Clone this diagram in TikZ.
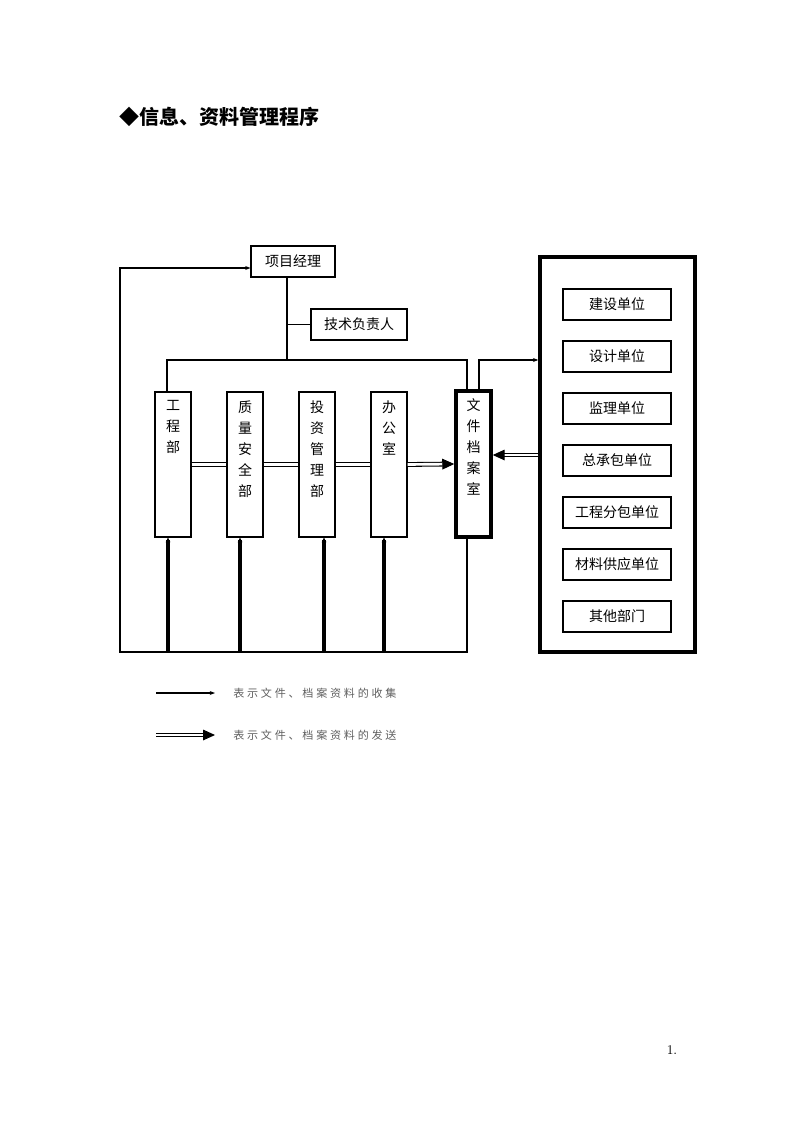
\documentclass[tikz,border=0pt]{standalone}
\usepackage{fontspec}
\usepackage{tikz}
\usetikzlibrary{arrows.meta,calc}
\newfontfamily\cjk{Noto Sans CJK SC}
\newfontfamily\cjklegend[LetterSpace=25]{Noto Sans CJK SC}
\definecolor{legendgray}{RGB}{95,95,95}

\tikzset{
  box/.style={draw,line width=0.8pt,inner sep=0pt,minimum height=23.25pt,
    font=\cjk\fontsize{10.5}{12}\selectfont},
  dept/.style={draw,line width=0.8pt,minimum width=27pt,minimum height=108.75pt},
  thickbox/.style={draw,line width=2.6pt},
  vtext/.style={anchor=north,inner sep=0pt,align=center,
    font=\cjk\fontsize{10.5}{15.75}\selectfont},
  tip/.style={line width=0.8pt,-{Stealth[length=4pt,width=3pt]}},
  upline/.style={line width=2.4pt,{Stealth[length=3.5pt,width=3.5pt]}-},
  dline/.style={double,double distance=2pt,line width=0.8pt},
  darrow/.style={dline,-{Triangle[length=9pt,width=8pt]}},
  legend/.style={anchor=west,inner sep=0pt,text=legendgray,
    font=\cjklegend\fontsize{8.3}{10}\selectfont}
}

\begin{document}
\begin{tikzpicture}[x=0.75pt,y=-0.75pt]
\useasboundingbox (0,0) rectangle (794,1123);

\node[anchor=west,inner sep=0pt] (title) at (119,117)
  {\cjk\bfseries\fontsize{15}{18}\selectfont ◆信息、资料管理程序};

% management
\node[box,minimum width=63pt] (pm) at (293,261.5) {项目经理};
\node[box,minimum width=72pt] (tech) at (359,324.5) {技术负责人};

% departments
\node[dept] (gcb) at (173,464.5) {};
\node[dept] (zla) at (245,464.5) {};
\node[dept] (tzb) at (317,464.5) {};
\node[dept] (bgs) at (389,464.5) {};
\node[dept,thickbox,minimum width=26.25pt,minimum height=109.5pt] (file) at (473.5,464) {};

\node[vtext] (gcbt) at ($(gcb.north)+(0,9)$) {工\\程\\部};
\node[vtext] (zlat) at ($(zla.north)+(0,9)$) {质\\量\\安\\全\\部};
\node[vtext] (tzbt) at ($(tzb.north)+(0,9)$) {投\\资\\管\\理\\部};
\node[vtext] (bgst) at ($(bgs.north)+(0,9)$) {办\\公\\室};
\node[vtext] (filet) at ($(file.north)+(0,9)$) {文\\件\\档\\案\\室};

% outside units
\node[thickbox,minimum width=116.25pt,minimum height=296.25pt] (units) at (617.5,454.5) {};
\foreach \n/\y/\t in {u1/304.5/建设单位, u2/356.5/设计单位, u3/408.5/监理单位,
    u4/460.5/总承包单位, u5/512.5/工程分包单位, u6/564.5/材料供应单位, u7/616.5/其他部门}
  \node[box,minimum width=81pt] (\n) at (617,\y) {\t};

\coordinate (top) at (287,360);
\coordinate (busL) at (167,360);
\coordinate (busR) at (467,360);
\coordinate (outT) at (479,360);
\coordinate (loopL) at (120,652);
\coordinate (loopT) at (120,268);
\coordinate (inY) at (0,455);

\draw[line width=0.8pt] (pm.south -| top) -- (top);
\draw[line width=0.8pt] (tech.west) -- (tech.west -| top);
\draw[line width=0.8pt] (gcb.north -| busL) -- (busL) -- (busR) -- (file.north -| busR);
\draw[tip] (file.north -| outT) -- (outT) -- (outT -| units.west);
\draw[tip] (file.south -| busR) -- (busR |- loopL) -- (loopL) -- (loopT) -- (loopT -| pm.west);

\foreach \d/\o in {gcb/-5, zla/-5, tzb/7, bgs/-5}
  \draw[upline] ($(\d.south)+(\o,0)$) -- ($(\d.south |- loopL)+(\o,0)$);

\draw[dline] (gcb.east) -- (zla.west);
\draw[dline] (zla.east) -- (tzb.west);
\draw[dline] (tzb.east) -- (bgs.west);
\draw[darrow] (bgs.east) -- (file.west);
\draw[darrow] (units.west |- inY) -- (file.east |- inY);

% legend
\node[legend] (lt1) at (233,693) {表示文件、档案资料的收集};
\node[legend] (lt2) at (233,735) {表示文件、档案资料的发送};
\coordinate (lg1) at (156,693);
\coordinate (lg1e) at (215,693);
\coordinate (lg2) at (156,735);
\coordinate (lg2e) at (215,735);
\draw[tip] (lg1) -- (lg1e);
\draw[darrow] (lg2) -- (lg2e);

\node[inner sep=0pt] (pnum) at (672,1050) {\fontsize{10}{12}\selectfont 1.};
\end{tikzpicture}
\end{document}
